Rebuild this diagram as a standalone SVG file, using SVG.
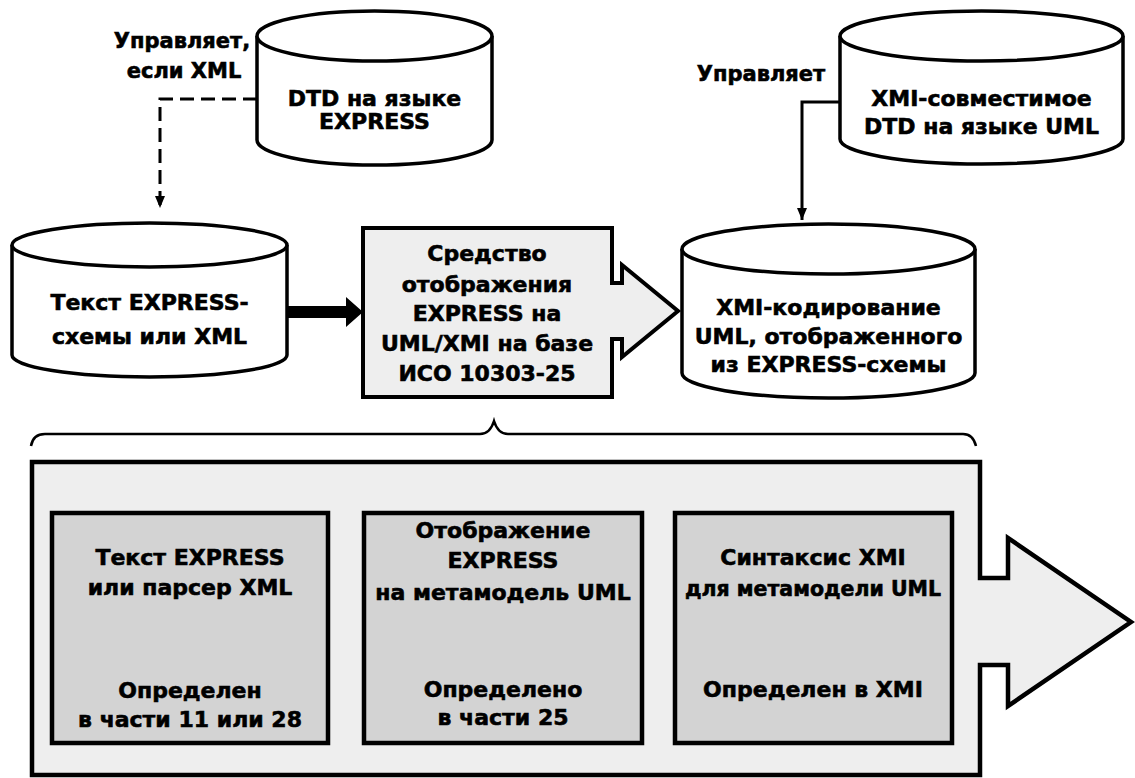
<svg xmlns="http://www.w3.org/2000/svg" width="1135" height="778" viewBox="0 0 1135 778">
  <defs>
    <style>
      text { font-family: "DejaVu Sans", "Liberation Sans", sans-serif; font-weight: bold; font-size: 22px; fill: #000; stroke: #000; stroke-width: 0.6; text-anchor: middle; }
      text.lbl { font-size: 21px; }
      text.sm { font-size: 20.5px; }
      .cyl { fill: #fff; stroke: #000; stroke-width: 3.5; }
      .conn { fill: none; stroke: #000; stroke-width: 3; }
      .dash { stroke-dasharray: 14 7; }
      .inner { fill: #d3d3d3; stroke: #000; stroke-width: 4.5; }
      .panel { fill: #eeeeee; stroke: #000; stroke-width: 4.5; stroke-linejoin: miter; }
      .tool { fill: #eeeeee; stroke: #000; stroke-width: 4; stroke-linejoin: miter; }
      .brace { fill: none; stroke: #000; stroke-width: 2.5; }
    </style>
    <marker id="ah" markerUnits="userSpaceOnUse" markerWidth="12" markerHeight="14" refX="12" refY="6" orient="auto">
      <path d="M0,1 L12,6 L0,11 Z" fill="#000"/>
    </marker>
  </defs>

  <g id="connectors">
    <path class="conn dash" d="M257,99 H160 V208" marker-end="url(#ah)"/>
    <path class="conn" d="M840,102 H802 V220" marker-end="url(#ah)"/>
    <path d="M288,306 H346 V297 L363,312 L346,327 V318 H288 Z" fill="#000"/>
    <path class="brace" d="M31,446 Q33,434 45,434 H480 Q490,434 494,421 Q498,434 508,434 H963 Q973,434 976,446"/>
  </g>

  <g id="dtd-express">
    <path class="cyl" d="M257,36 V140 A117.5,25 0 0 0 492,140 V36"/>
    <ellipse class="cyl" cx="374.5" cy="36" rx="117.5" ry="25"/>
    <text x="374.5" y="106">DTD на языке</text>
    <text x="374.5" y="129">EXPRESS</text>
  </g>

  <g id="label-left">
    <text class="lbl" x="182" y="48">Управляет,</text>
    <text class="lbl" x="184" y="78">если XML</text>
  </g>

  <g id="xmi-dtd-uml">
    <path class="cyl" d="M840,36 V139 A141.5,25 0 0 0 1123,139 V36"/>
    <ellipse class="cyl" cx="981.5" cy="36" rx="141.5" ry="25"/>
    <text x="981.5" y="106">XMI-совместимое</text>
    <text x="981.5" y="134">DTD на языке UML</text>
  </g>

  <g id="label-right">
    <text class="lbl" x="761" y="81">Управляет</text>
  </g>

  <g id="express-text">
    <path class="cyl" d="M12,245 V355 A137.5,22 0 0 0 287,355 V245"/>
    <ellipse class="cyl" cx="149.5" cy="245" rx="137.5" ry="22"/>
    <text x="149.5" y="310">Текст EXPRESS-</text>
    <text x="149.5" y="344">схемы или XML</text>
  </g>

  <g id="mapping-tool">
    <path class="tool" d="M363,228 H612 V283 H622 V265 L678,311 L622,357 V339 H612 V397 H363 Z"/>
    <text x="487" y="261">Средство</text>
    <text x="487" y="292">отображения</text>
    <text x="487" y="321">EXPRESS на</text>
    <text x="487" y="351">UML/XMI на базе</text>
    <text x="487" y="381">ИСО 10303-25</text>
  </g>

  <g id="xmi-encoding">
    <path class="cyl" d="M682,249 V373 A146.5,25 0 0 0 975,373 V249"/>
    <ellipse class="cyl" cx="828.5" cy="249" rx="146.5" ry="25"/>
    <text x="828.5" y="315">XMI-кодирование</text>
    <text x="828.5" y="344">UML, отображенного</text>
    <text x="828.5" y="372">из EXPRESS-схемы</text>
  </g>

  <g id="panel">
    <path class="panel" d="M32,462 H980 V578 H1008 V538 L1131,622 L1008,706 V665 H980 V775 H32 Z"/>
  </g>

  <g id="box-parser">
    <rect class="inner" x="52" y="513" width="276" height="230"/>
    <text x="190" y="565">Текст EXPRESS</text>
    <text x="190" y="595">или парсер XML</text>
    <text x="190" y="698">Определен</text>
    <text x="190" y="727">в части 11 или 28</text>
  </g>

  <g id="box-mapping">
    <rect class="inner" x="364" y="513" width="278" height="230"/>
    <text x="503" y="538">Отображение</text>
    <text x="503" y="568">EXPRESS</text>
    <text x="503" y="600">на метамодель UML</text>
    <text x="503" y="697">Определено</text>
    <text x="503" y="725">в части 25</text>
  </g>

  <g id="box-syntax">
    <rect class="inner" x="675" y="513" width="277" height="230"/>
    <text x="813" y="565">Синтаксис XMI</text>
    <text class="sm" x="813" y="596">для метамодели UML</text>
    <text x="813" y="697">Определен в XMI</text>
  </g>
</svg>
